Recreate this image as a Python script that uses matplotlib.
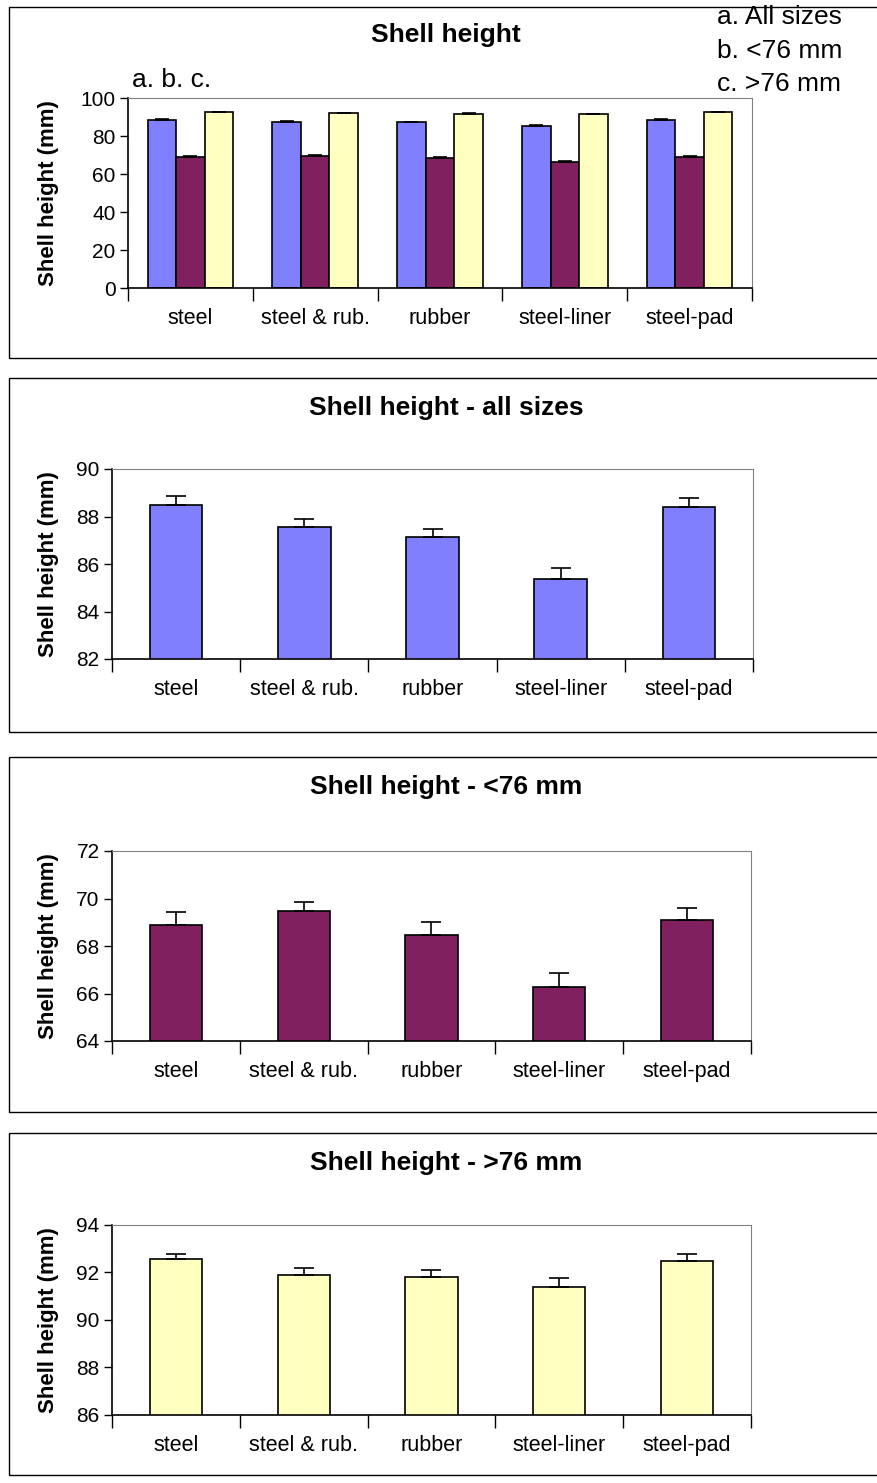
import numpy as np
import matplotlib.pyplot as plt
from matplotlib.patches import Rectangle

plt.rcParams['font.family'] = ['Liberation Sans', 'DejaVu Sans']

categories = ["steel", "steel & rub.", "rubber", "steel-liner", "steel-pad"]
all_sizes = [88.5, 87.56, 87.14, 85.38, 88.41]
all_err = [0.35, 0.35, 0.35, 0.44, 0.37]
small = [68.89, 69.49, 68.47, 66.29, 69.08]
small_err = [0.53, 0.35, 0.52, 0.59, 0.51]
large = [92.58, 91.91, 91.82, 91.41, 92.48]
large_err = [0.18, 0.27, 0.27, 0.34, 0.28]

c_all = "#8080FF"
c_small = "#80205F"
c_large = "#FFFFC0"

W, H = 878, 1483
fig = plt.figure(figsize=(W / 100, H / 100), dpi=100)


def px_axes(x0, y0, x1, y1):
    # pixel box (top-left origin) -> figure axes
    return fig.add_axes([x0 / W, 1 - y1 / H, (x1 - x0) / W, (y1 - y0) / H])


def frame(y0, y1):
    fig.patches.append(Rectangle((9 / W, 1 - y1 / H), 1.2, (y1 - y0) / H,
                                 transform=fig.transFigure, fill=False,
                                 edgecolor="black", linewidth=1.0))


def style(ax, x0, x1, ylo, yhi, step):
    n = len(categories)
    ax.set_xlim(-0.5, n - 0.5)
    ax.set_ylim(ylo, yhi)
    ax.set_yticks(np.arange(ylo, yhi + 0.1, step))
    ax.tick_params(axis="y", direction="out", length=6, labelsize=15, width=1, pad=3)
    ax.set_xticks(np.arange(n + 1) - 0.5)
    ax.set_xticklabels([])
    ax.tick_params(axis="x", direction="out", length=9, width=1)
    for i, c in enumerate(categories):
        ax.text(i, -0.16, c, transform=ax.get_xaxis_transform(),
                ha="center", va="center", fontsize=15.5)
    for s in ["top", "right"]:
        ax.spines[s].set_color("#808080")
    for s in ["left", "bottom"]:
        ax.spines[s].set_color("black")
        ax.spines[s].set_linewidth(1.2)
    ax.set_ylabel("Shell height (mm)", fontsize=16, fontweight="bold")
    ax.yaxis.set_label_coords((59 - x0) / (x1 - x0), 0.5)


x = np.arange(len(categories))

# panel 1: grouped bars
frame(7, 358)
ax = px_axes(128, 98, 752, 288)
bw = 0.229
for k, (vals, errs, col) in enumerate([(all_sizes, all_err, c_all),
                                       (small, small_err, c_small),
                                       (large, large_err, c_large)]):
    ax.bar(x + (k - 1) * bw, vals, bw, color=col, edgecolor="black",
           linewidth=1.2, yerr=[np.zeros(len(errs)), errs], capsize=5,
           error_kw=dict(elinewidth=1.2, capthick=1.2))
style(ax, 128, 752, 0, 100, 20)
fig.text(446 / W, 1 - 35 / H, "Shell height", ha="center", va="center",
         fontsize=19, fontweight="bold")
fig.text(132 / W, 1 - 80 / H, "a. b. c.", ha="left", va="center", fontsize=19)
for i, t in enumerate(["a. All sizes", "b. <76 mm", "c. >76 mm"]):
    fig.text(717 / W, 1 - (17 + 33.5 * i) / H, t, ha="left", va="center", fontsize=19)

# panels 2-4: single series
panels = [
    (378, 732, 469, 659, 753, "Shell height - all sizes", all_sizes, all_err, c_all, 82, 90),
    (757, 1112, 851, 1041, 751, "Shell height - <76 mm", small, small_err, c_small, 64, 72),
    (1133, 1475, 1225, 1415, 751, "Shell height - >76 mm", large, large_err, c_large, 86, 94),
]
for fy0, fy1, ay0, ay1, ax1, title, vals, errs, col, ylo, yhi in panels:
    frame(fy0, fy1)
    ax = px_axes(112, ay0, ax1, ay1)
    ax.bar(x, vals, 0.41, color=col, edgecolor="black", linewidth=1.2,
           yerr=[np.zeros(len(errs)), errs], capsize=7,
           error_kw=dict(elinewidth=1.2, capthick=1.2))
    style(ax, 112, ax1, ylo, yhi, 2)
    fig.text(446 / W, 1 - (fy0 + 30) / H, title, ha="center", va="center",
             fontsize=19, fontweight="bold")

fig.savefig("out.png", dpi=100)
